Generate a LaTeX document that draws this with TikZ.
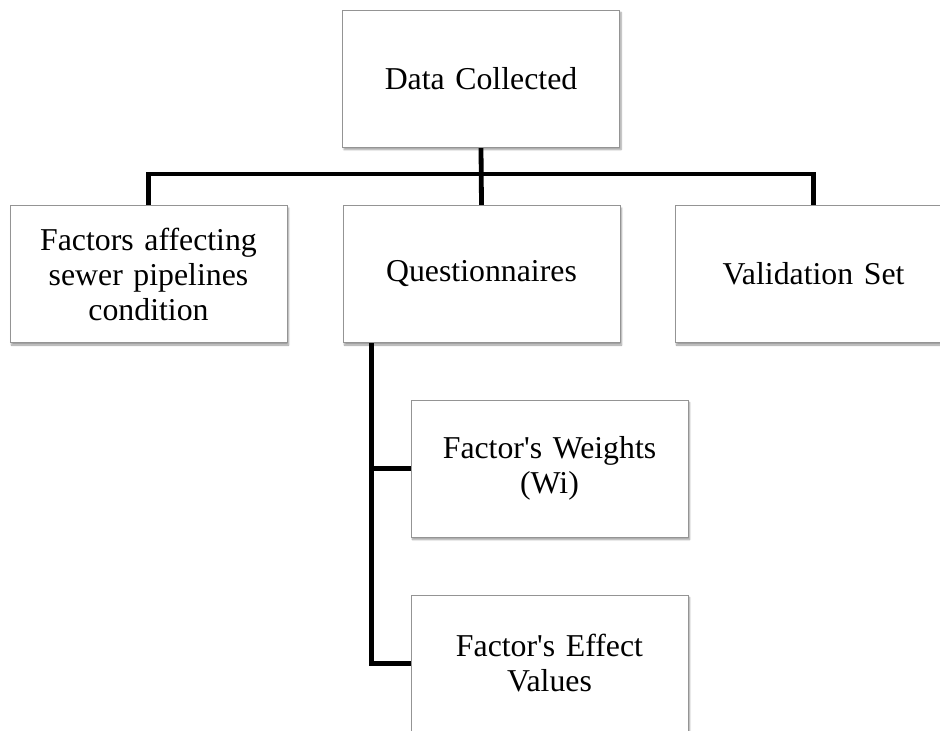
\documentclass[tikz,border=0pt]{standalone}
\usepackage{fontspec}
\newfontfamily\boxfont{Liberation Serif}
\usetikzlibrary{shadows.blur,calc,backgrounds}
\begin{document}
\begin{tikzpicture}[x=1pt,y=1pt,
  box/.style={draw=black!42, line width=0.9pt, fill=white,
    minimum width=277pt, minimum height=137pt, inner sep=0pt,
    align=center, text width=270pt,
    font=\boxfont\fontsize{31.8}{35}\selectfont,
    blur shadow={shadow xshift=1.5pt, shadow yshift=-2.5pt, shadow blur steps=6, shadow opacity=40}},
  link/.style={line width=4.8pt, black}]
  \useasboundingbox (0,0) rectangle (940,-731);
  \clip (0,0) rectangle (940,-731);

  % tree nodes
  \node[box] (dc) at (481,-78.5) {Data Collected};
  \node[box] (f)  at (148.5,-274) {Factors affecting\\sewer pipelines\\condition};
  \node[box] (q)  at (481.5,-274) {Questionnaires};
  \node[box] (v)  at (813.5,-274) {Validation Set};
  \node[box] (w)  at (549.5,-468.5) {Factor's Weights\\(Wi)};
  \node[box] (e)  at (549.5,-663.5) {Factor's Effect\\Values};

  % connectors, kept behind the boxes
  \begin{pgfonlayer}{background}
    \draw[link] (dc.south) -- (q.north);
    \draw[link] (f.north) -- ++(0,31) -| (v.north);
    \coordinate (qs) at ($(q.south west)+(29,0)$);
    \draw[link] (qs) |- (w.west);
    \draw[link] (qs) |- (e.west);
  \end{pgfonlayer}
\end{tikzpicture}
\end{document}
